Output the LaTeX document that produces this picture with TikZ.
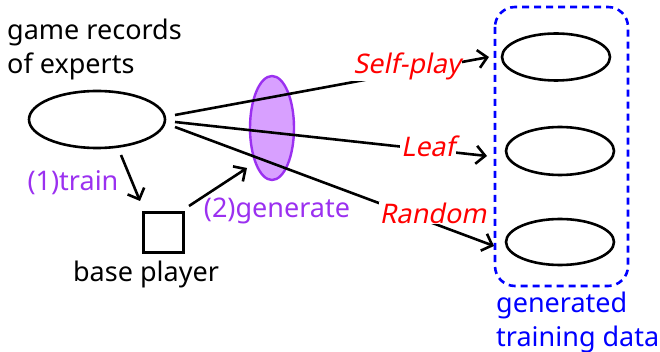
\documentclass[tikz,border=0pt]{standalone}
\usepackage{fontspec}
\setmainfont{Noto Sans}
\newfontfamily\slantfont[FakeSlant=0.2]{Noto Sans}
\usetikzlibrary{arrows.meta,shapes.geometric}
\definecolor{ppl}{RGB}{155,48,240}
\definecolor{pplfill}{RGB}{216,160,255}
\tikzset{
  line/.style={line width=2.6pt},
  arr/.style={line width=2.6pt,-{Straight Barb[length=9pt,width=18pt,line width=2.6pt]}},
  oval/.style={draw,line width=2.6pt,ellipse,inner sep=0pt},
  txt/.style={font=\fontsize{27}{34}\selectfont,inner sep=0pt},
  lab/.style={font=\fontsize{27}{34}\selectfont\slantfont,text=red,fill=white,inner sep=1pt},
}
\begin{document}
\begin{tikzpicture}[x=1pt,y=-1pt]
\useasboundingbox (0,0) rectangle (660,352);
% dashed group
\draw[blue,line width=2.6pt,dash pattern=on 7pt off 5pt,rounded corners=20pt] (495,7) rectangle (628,286);
\node[txt,text=blue,anchor=west,align=left] (gtd) at (496,322) {generated\\training data};
% right ellipses
\node[oval,minimum width=108pt,minimum height=47pt] (e1) at (556,57) {};
\node[oval,minimum width=108pt,minimum height=48pt] (e2) at (560,151) {};
\node[oval,minimum width=108pt,minimum height=46pt] (e3) at (560,242) {};
% left ellipse
\node[oval,minimum width=136pt,minimum height=57pt] (src) at (97,119.5) {};
\node[txt,anchor=west,align=left] (gre) at (7,49) {game records\\of experts};
% purple ellipse
\node[ellipse,draw=ppl,fill=pplfill,line width=2.4pt,minimum width=44pt,minimum height=104pt,inner sep=0pt] (gen) at (272,128) {};
% base player
\node[draw,line width=2.6pt,minimum width=40pt,minimum height=40pt,inner sep=0pt] (bp) at (163.5,232.5) {};
\node[txt] (bpl) at (146,274) {base player};
% train / generate arrows
\coordinate (t0) at (121,155);
\coordinate (t1) at (140,201);
\draw[arr] (t0) -- (t1);
\node[txt,text=ppl] (trl) at (73,183) {(1)train};
\coordinate (g0) at (189,206);
\coordinate (g1) at (247,168);
\draw[arr] (g0) -- (g1);
\node[txt,text=ppl] (gnl) at (277,211) {(2)generate};
% three generation arrows
\coordinate (s1) at (175,115);
\coordinate (s2) at (175,122);
\coordinate (s3) at (175,127);
\coordinate (d1) at (489,57);
\coordinate (d2) at (487,156);
\coordinate (d3) at (494,246);
\draw[arr] (s1) -- (d1);
\draw[arr] (s2) -- (d2);
\draw[arr] (s3) -- (d3);
\node[lab] (l1) at (407,66) {Self-play};
\node[lab] (l2) at (428,146) {Leaf};
\node[lab] (l3) at (433,213) {Random};
\end{tikzpicture}
\end{document}
